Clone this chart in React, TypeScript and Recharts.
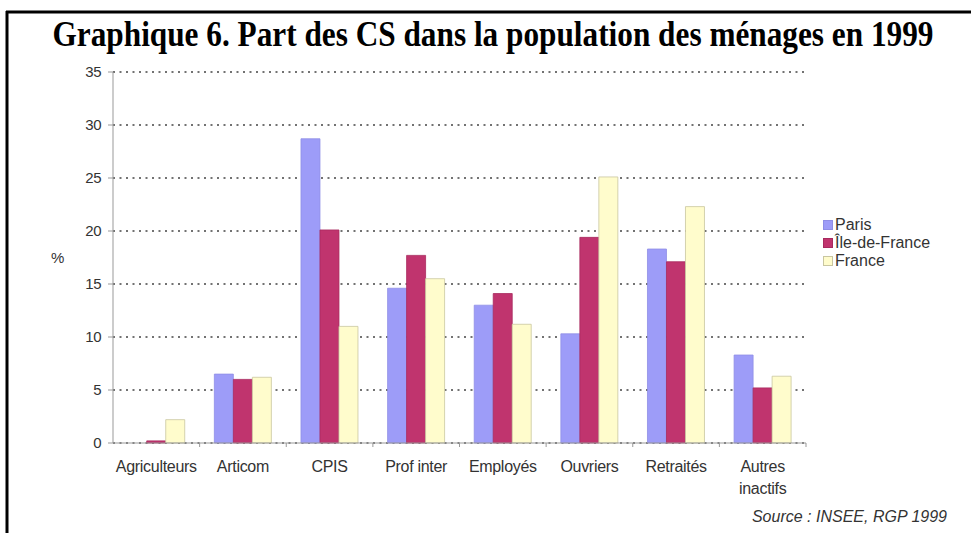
import React, { useLayoutEffect, useRef, useState } from "react";
import {
  BarChart,
  Bar,
  XAxis,
  YAxis,
  CartesianGrid,
} from "recharts";

const categories = [
  "Agriculteurs",
  "Articom",
  "CPIS",
  "Prof inter",
  "Employés",
  "Ouvriers",
  "Retraités",
  "Autres\ninactifs",
];
const paris = [0, 6.5, 28.7, 14.6, 13.0, 10.3, 18.3, 8.3];
const ileDeFrance = [0.2, 6.0, 20.1, 17.7, 14.1, 19.4, 17.1, 5.2];
const france = [2.2, 6.2, 11.0, 15.5, 11.2, 25.1, 22.3, 6.3];
const yTicks = [0, 5, 10, 15, 20, 25, 30, 35];

const series = [
  { key: "paris", name: "Paris", color: "#9d9cf8", stroke: "#8f8ee6" },
  { key: "idf", name: "Île-de-France", color: "#c0346e", stroke: "#a82a5e" },
  { key: "france", name: "France", color: "#fffccc", stroke: "#c9c6a0" },
];

const data = categories.map((cat, i) => ({
  cat,
  paris: paris[i],
  idf: ileDeFrance[i],
  france: france[i],
}));

const FONT = "Arial, 'Liberation Sans', Helvetica, sans-serif";
const TITLE = "Graphique 6. Part des CS dans la population des ménages en 1999";

function CatTick(props: any) {
  const { x, y, payload, width } = props;
  const band = width / categories.length;
  const lines = String(payload.value).split("\n");
  return (
    <g>
      <line x1={x + band / 2} x2={x + band / 2} y1={y - 8} y2={y - 4} stroke="#999" />
      <text
        x={x}
        y={y + 21}
        textAnchor="middle"
        fontSize={16}
        fill="#333"
        fontFamily={FONT}
        letterSpacing={-0.3}
      >
        {lines.map((l, i) => (
          <tspan key={i} x={x} dy={i === 0 ? 0 : 22}>
            {l}
          </tspan>
        ))}
      </text>
    </g>
  );
}

function LegendBox() {
  return (
    <div style={{ fontFamily: FONT, fontSize: 16, color: "#333", lineHeight: "18px" }}>
      {series.map((s) => (
        <div key={s.key} style={{ display: "flex", alignItems: "center" }}>
          <span
            style={{
              display: "inline-block",
              width: 10,
              height: 10,
              background: s.color,
              border: `1px solid ${s.stroke}`,
              marginRight: 2,
              boxSizing: "border-box",
            }}
          />
          <span>{s.name}</span>
        </div>
      ))}
    </div>
  );
}

function Title() {
  const ref = useRef<HTMLSpanElement>(null);
  const [scale, setScale] = useState(0.89);
  useLayoutEffect(() => {
    if (ref.current) {
      const w = ref.current.offsetWidth;
      if (w > 0) setScale(881 / w);
    }
  }, []);
  return (
    <div
      style={{
        position: "absolute",
        left: 0,
        top: 15,
        width: 979,
        textAlign: "center",
        whiteSpace: "nowrap",
      }}
    >
      <span
        ref={ref}
        style={{
          display: "inline-block",
          fontFamily: "'Liberation Serif', 'Times New Roman', serif",
          fontWeight: "bold",
          fontSize: 35,
          lineHeight: "40px",
          color: "#000",
          transform: `scaleX(${scale})`,
          transformOrigin: "center",
        }}
      >
        {TITLE}
      </span>
    </div>
  );
}

export default function App() {
  return (
    <div style={{ position: "absolute", left: 0, top: 0, width: 971, height: 533, background: "#fff", overflow: "hidden" }}>
      <svg width={971} height={533} style={{ position: "absolute", left: 0, top: 0 }}>
        <line x1={6} x2={971} y1={12} y2={12} stroke="#000" strokeWidth={3} />
        <line x1={7} x2={7} y1={11} y2={533} stroke="#000" strokeWidth={3} />
        <text
          x={947}
          y={522}
          textAnchor="end"
          fontFamily={FONT}
          fontStyle="italic"
          fontSize={16}
          fill="#333"
        >
          Source : INSEE, RGP 1999
        </text>
      </svg>
      <Title />
      <div style={{ position: "absolute", left: 0, top: 0 }}>
        <BarChart
          width={971}
          height={533}
          data={data}
          margin={{ top: 72, right: 165, left: 0, bottom: 0 }}
          barCategoryGap="17%"
          barGap={0}
        >
          <CartesianGrid
            vertical={false}
            stroke="#444"
            strokeDasharray="2 4.5"
            strokeWidth={1.3}
          />
          <XAxis
            dataKey="cat"
            xAxisId={0}
            tick={<CatTick />}
            tickLine={false}
            axisLine={{ stroke: "#999" }}
            interval={0}
            height={90}
          />
          <XAxis
            xAxisId="top"
            orientation="top"
            dataKey="cat"
            tick={false}
            tickLine={false}
            axisLine={{ stroke: "#aaa" }}
            height={0}
          />
          <YAxis
            yAxisId={0}
            domain={[0, 35]}
            ticks={yTicks}
            interval={0}
            width={113}
            tickSize={5}
            tickMargin={7}
            tickLine={{ stroke: "#999" }}
            axisLine={{ stroke: "#999" }}
            tick={{ fontSize: 15, fill: "#333", fontFamily: FONT, letterSpacing: -0.5 }}
            label={{
              value: "%",
              position: "insideLeft",
              offset: 51,
              fontSize: 15,
              fill: "#333",
              fontFamily: FONT,
            }}
          />
          <YAxis
            yAxisId="right"
            orientation="right"
            domain={[0, 35]}
            tick={false}
            tickLine={false}
            axisLine={{ stroke: "#aaa" }}
            width={0}
          />
          {series.map((s) => (
            <Bar
              key={s.key}
              dataKey={s.key}
              name={s.name}
              fill={s.color}
              stroke={s.stroke}
              strokeWidth={0.8}
              xAxisId={0}
              yAxisId={0}
              isAnimationActive={false}
            />
          ))}
        </BarChart>
      </div>
      <div style={{ position: "absolute", left: 823, top: 216 }}>
        <LegendBox />
      </div>
    </div>
  );
}
